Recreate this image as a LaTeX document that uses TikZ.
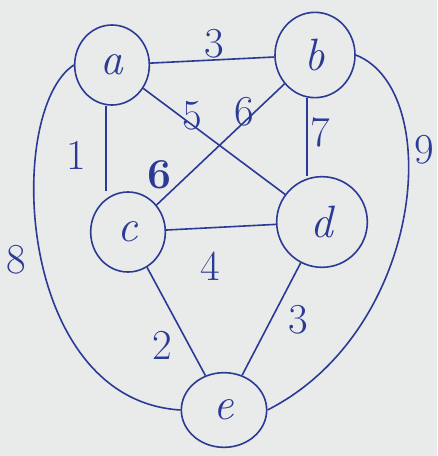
\documentclass[tikz,border=0pt]{standalone}
\usepackage{tikz}
\usetikzlibrary{shapes.geometric}
\definecolor{ink}{HTML}{2B3A94}
\definecolor{paper}{HTML}{E9EBEA}
\begin{document}
\begin{tikzpicture}[x=0.75pt,y=-0.75pt,
  vtx/.style={ellipse,draw=ink,line width=1.2pt,text=ink,inner sep=0pt,font=\fontsize{34}{34}\selectfont\itshape},
  edge/.style={draw=ink,line width=1.2pt},
  wlab/.style={text=ink,font=\fontsize{32}{32}\selectfont}]
\fill[paper] (0,0) rectangle (437,456);
\useasboundingbox (0,0) rectangle (437,456);
\node[vtx,minimum width=56,minimum height=60] (a) at (112,65) {a};
\node[vtx,minimum width=60,minimum height=64] (b) at (315,55) {b};
\node[vtx,minimum width=56,minimum height=60] (c) at (128,232) {c};
\node[vtx,minimum width=68,minimum height=68] (d) at (322,222) {d};
\node[vtx,minimum width=64,minimum height=56] (e) at (224,410) {e};
% edges
\draw[edge] (a) -- (b);
\draw[edge] (a.south) ++(-6,0) coordinate (a1) -- (a1 |- c.north);
\draw[edge] (a) -- (d);
\draw[edge] (b) -- (c);
\draw[edge] (b.south) ++(-8,0) coordinate (b1) -- (b1 |- d.north);
\draw[edge] (c) -- (d);
\draw[edge] (c) -- (e);
\draw[edge] (d) -- (e);
\draw[edge] (b.east) .. controls (445,90) and (425,330) .. (e.east);
\draw[edge] (a.west) .. controls (5,110) and (15,400) .. (e.west);
% labels
\node[wlab] (l1) at (214,44) {3};
\node[wlab] (l2) at (76,155) {1};
\node[wlab] (l3) at (192,116) {5};
\node[wlab] (l4) at (244,112) {6};
\node[wlab] (l5) at (320,132) {7};
\node[wlab] (l6) at (424,150) {9};
\node[wlab] (l7) at (16,260) {8};
\node[wlab] (l8) at (210,266) {4};
\node[wlab] (l9) at (162,345) {2};
\node[wlab] (l10) at (298,320) {3};
\node[wlab] (l11) at (160,175) {\textbf{6}};
\end{tikzpicture}
\end{document}
